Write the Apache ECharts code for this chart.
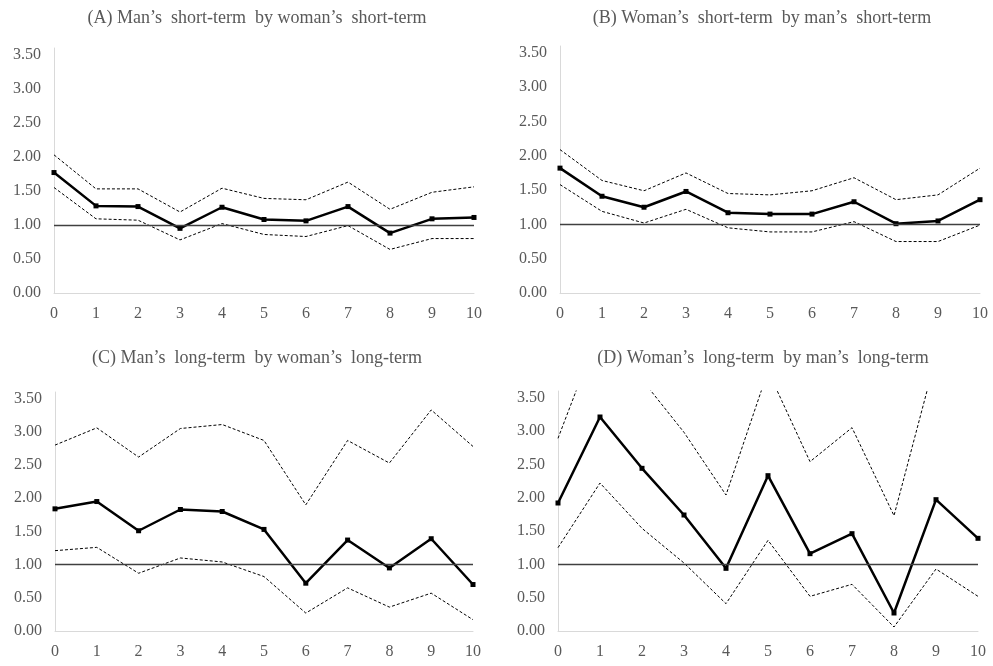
<!DOCTYPE html>
<html>
<head>
<meta charset="utf-8">
<script src="https://cdn.jsdelivr.net/npm/echarts@6/dist/echarts.min.js"></script>
<style>html,body{margin:0;padding:0;background:#fff;}#c{width:993px;height:666px;}</style>
</head>
<body>
<div id="c"></div>
<script>
const categories = ['0','1','2','3','4','5','6','7','8','9','10'];
const yTicks = [0, 0.5, 1, 1.5, 2, 2.5, 3, 3.5];
const titles = [
  "(A) Man\u2019s  short-term  by woman\u2019s  short-term",
  "(B) Woman\u2019s  short-term  by man\u2019s  short-term",
  "(C) Man\u2019s  long-term  by woman\u2019s  long-term",
  "(D) Woman\u2019s  long-term  by man\u2019s  long-term"
];
// Panel A
const aMain  = [1.77, 1.28, 1.27, 0.95, 1.26, 1.08, 1.06, 1.27, 0.88, 1.09, 1.11];
const aUpper = [2.03, 1.53, 1.53, 1.19, 1.54, 1.39, 1.37, 1.63, 1.23, 1.48, 1.56];
const aLower = [1.55, 1.09, 1.07, 0.78, 1.02, 0.86, 0.83, 0.99, 0.64, 0.80, 0.80];
// Panel B
const bMain  = [1.82, 1.41, 1.25, 1.48, 1.17, 1.15, 1.15, 1.33, 1.01, 1.05, 1.36];
const bUpper = [2.09, 1.64, 1.49, 1.75, 1.45, 1.43, 1.49, 1.68, 1.36, 1.43, 1.82];
const bLower = [1.58, 1.19, 1.02, 1.22, 0.95, 0.89, 0.89, 1.04, 0.75, 0.75, 0.99];
// Panel C
const cMain  = [1.84, 1.95, 1.51, 1.83, 1.80, 1.53, 0.72, 1.37, 0.95, 1.39, 0.70];
const cUpper = [2.80, 3.06, 2.62, 3.05, 3.11, 2.87, 1.90, 2.87, 2.53, 3.33, 2.78];
const cLower = [1.21, 1.26, 0.87, 1.10, 1.04, 0.82, 0.27, 0.65, 0.36, 0.57, 0.17];
// Panel D
const dMain  = [1.92, 3.21, 2.44, 1.74, 0.94, 2.33, 1.16, 1.46, 0.27, 1.97, 1.39];
const dUpper = [2.89, 4.54, 3.77, 2.98, 2.04, 3.90, 2.54, 3.05, 1.73, 4.11, 3.90];
const dLower = [1.25, 2.22, 1.54, 1.02, 0.41, 1.36, 0.52, 0.70, 0.06, 0.93, 0.52];
const refValue = 1.0;

const panels = [
  {main: aMain, upper: aUpper, lower: aLower},
  {main: bMain, upper: bUpper, lower: bLower},
  {main: cMain, upper: cUpper, lower: cLower},
  {main: dMain, upper: dUpper, lower: dLower}
];

const grids = [
  {left: 54, top: 48, width: 420, height: 245},
  {left: 560, top: 46, width: 420, height: 247},
  {left: 55, top: 392, width: 418, height: 239},
  {left: 558, top: 391, width: 420, height: 240}
];
const titlePos = [
  {x: 252, y: 4}, {x: 757, y: 4}, {x: 252, y: 344}, {x: 758, y: 344}
];
const font = 'Liberation Serif';
const gray = '#595959';

const option = {
  backgroundColor: '#fff',
  animation: false,
  title: titles.map((t, i) => ({
    text: t, left: titlePos[i].x, top: titlePos[i].y, textAlign: 'center',
    textStyle: {fontFamily: font, fontSize: 18, fontWeight: 'normal', color: gray}
  })),
  grid: grids.map(g => Object.assign({containLabel: false}, g)),
  xAxis: grids.map((g, i) => ({
    type: 'category', gridIndex: i, data: categories, boundaryGap: false,
    axisLine: {show: true, lineStyle: {color: '#d9d9d9', width: 1}},
    axisTick: {show: false},
    axisLabel: {fontFamily: font, fontSize: 16, color: gray, margin: 13, interval: 0},
    splitLine: {show: false}
  })),
  yAxis: grids.map((g, i) => ({
    type: 'value', gridIndex: i, min: 0, max: 3.6, interval: 0.5,
    axisLine: {show: true, lineStyle: {color: '#d9d9d9', width: 1}},
    axisTick: {show: false},
    splitLine: {show: false},
    axisLabel: {
      fontFamily: font, fontSize: 16, color: gray, margin: 13, showMaxLabel: false,
      formatter: v => (yTicks.some(t => Math.abs(t - v) < 1e-6) ? v.toFixed(2) : '')
    }
  })),
  series: []
};

panels.forEach((p, i) => {
  ['upper', 'lower'].forEach(k => {
    option.series.push({
      type: 'line', xAxisIndex: i, yAxisIndex: i, data: p[k],
      symbol: 'none', clip: true, z: 2,
      lineStyle: {color: '#000', width: 1, type: [3, 2]}
    });
  });
  option.series.push({
    type: 'line', xAxisIndex: i, yAxisIndex: i, data: p.main,
    symbol: 'rect', symbolSize: 5, clip: true, z: 4,
    itemStyle: {color: '#000'},
    lineStyle: {color: '#000', width: 2.5},
    markLine: {
      silent: true, symbol: 'none', label: {show: false},
      lineStyle: {color: '#404040', width: 1.3, type: 'solid'},
      data: [{yAxis: refValue}]
    }
  });
});

const chart = echarts.init(document.getElementById('c'), null, {renderer: 'canvas'});
chart.setOption(option);
</script>
</body>
</html>
